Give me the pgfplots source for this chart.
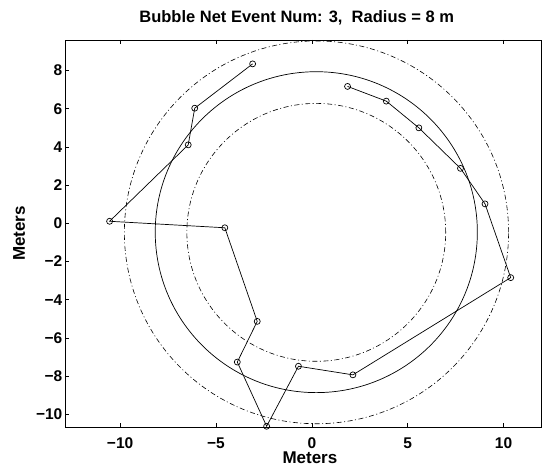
\documentclass[border=0pt]{standalone}
\usepackage{fontspec}
\setmainfont{Liberation Sans}
\usepackage{pgfplots}
\pgfplotsset{compat=1.18}
\begin{document}
\begin{tikzpicture}
\begin{axis}[
  scale only axis,
  width=475.5bp, height=387bp,
  xmin=-12.85, xmax=11.95,
  ymin=-10.66, ymax=9.6,
  xtick={-10,-5,0,5,10},
  xticklabels={−10,−5,0,5,10},
  ytick={-10,-8,-6,-4,-2,0,2,4,6,8},
  yticklabels={−10,−8,−6,−4,−2,0,2,4,6,8},
  tick align=inside,
  xtick pos=both,
  ytick pos=left,
  major tick length=4bp,
  axis line style={line width=0.8bp},
  every tick/.style={black, line width=0.7bp},
  tick label style={font=\fontsize{15.5bp}{17bp}\selectfont\bfseries},
  xticklabel style={anchor=base, yshift=-21bp},
  yticklabel style={anchor=east, inner sep=0pt, xshift=-3bp},
  title={Bubble Net Event Num: 3,\ \ Radius = 8 m},
  title style={at={(axis description cs:0.4862,1.031)}, anchor=base, font=\fontsize{16.5bp}{18bp}\selectfont\bfseries},
  xlabel={Meters},
  xlabel style={at={(axis description cs:0.514,-0.0935)}, anchor=base, font=\fontsize{17bp}{18bp}\selectfont\bfseries},
  ylabel={Meters},
  ylabel style={at={(axis description cs:-0.0852,0.5)}, anchor=base, rotate=0, font=\fontsize{17bp}{18bp}\selectfont\bfseries},
  clip mode=individual,
]
\draw[black, line width=0.7bp] (axis cs:0.23,-0.46) ellipse [x radius=8.4, y radius=8.4];
\draw[black, line width=0.6bp, dash pattern=on 5bp off 2.5bp on 1bp off 2.5bp] (axis cs:0.23,-0.47) ellipse [x radius=6.75, y radius=6.75];
\draw[black, line width=0.6bp, dash pattern=on 5bp off 2.5bp on 1bp off 2.5bp] (axis cs:0.24,-0.47) ellipse [x radius=10.02, y radius=10.02];
\addplot[black, line width=0.7bp, mark=o, mark size=3bp, mark options={solid, line width=0.7bp}] coordinates {
(-3.09,8.35) (-6.11,6.03) (-6.45,4.11) (-10.55,0.11) (-4.54,-0.23)
(-2.85,-5.13) (-3.89,-7.26) (-2.36,-10.62) (-0.70,-7.48) (2.14,-7.93)
(10.37,-2.84) (9.03,1.02) (7.75,2.88) (5.58,5.00) (3.88,6.40) (1.86,7.17)
};
\end{axis}
\pgfresetboundingbox
\path ([shift={(-65.5bp,-39bp)}]current axis.south west) rectangle ([shift={(2bp,40bp)}]current axis.north east);
\end{tikzpicture}
\end{document}
